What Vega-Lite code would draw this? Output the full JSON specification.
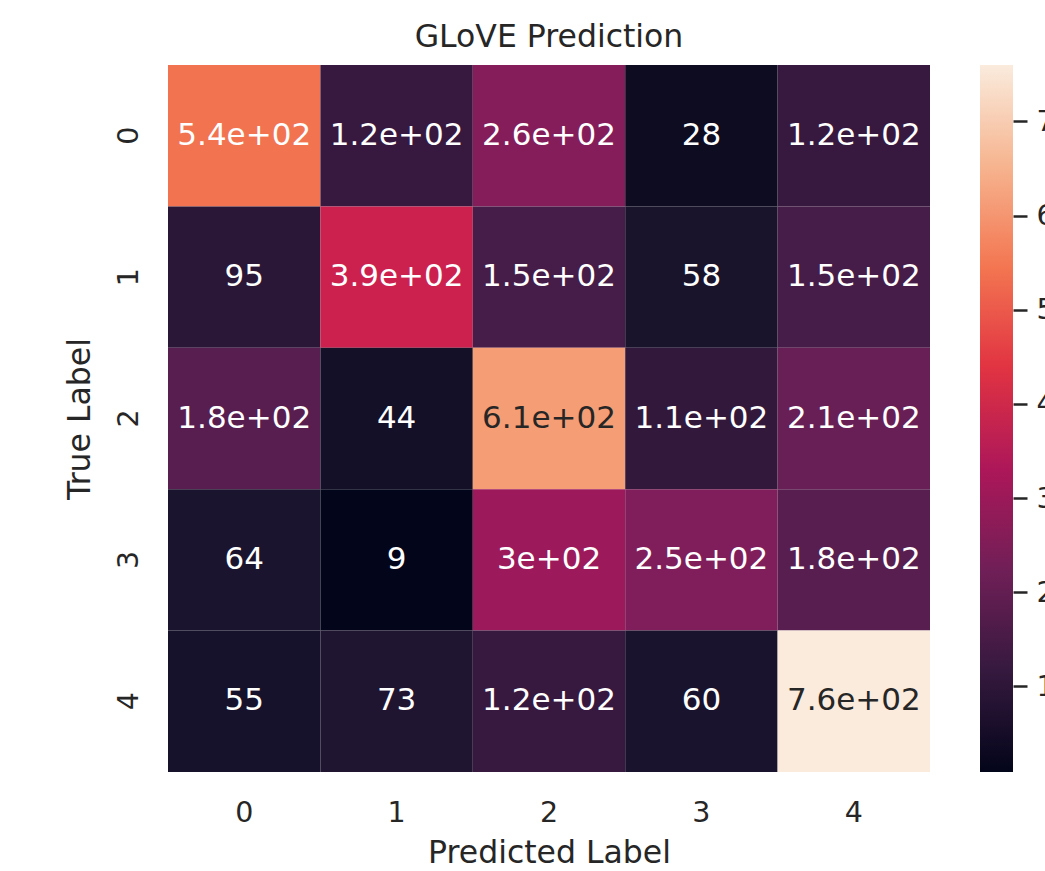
{
  "$schema": "https://vega.github.io/schema/vega-lite/v6.json",
  "autosize": "none",
  "padding": {"left": 168, "top": 65, "right": 877, "bottom": 806},
  "background": "white",
  "datasets": {
    "cm": [
      {"actual": 0, "pred": 0, "v": 540, "label": "5.4e+02"},
      {"actual": 0, "pred": 1, "v": 120, "label": "1.2e+02"},
      {"actual": 0, "pred": 2, "v": 260, "label": "2.6e+02"},
      {"actual": 0, "pred": 3, "v": 28, "label": "28"},
      {"actual": 0, "pred": 4, "v": 120, "label": "1.2e+02"},
      {"actual": 1, "pred": 0, "v": 95, "label": "95"},
      {"actual": 1, "pred": 1, "v": 390, "label": "3.9e+02"},
      {"actual": 1, "pred": 2, "v": 150, "label": "1.5e+02"},
      {"actual": 1, "pred": 3, "v": 58, "label": "58"},
      {"actual": 1, "pred": 4, "v": 150, "label": "1.5e+02"},
      {"actual": 2, "pred": 0, "v": 180, "label": "1.8e+02"},
      {"actual": 2, "pred": 1, "v": 44, "label": "44"},
      {"actual": 2, "pred": 2, "v": 610, "label": "6.1e+02"},
      {"actual": 2, "pred": 3, "v": 110, "label": "1.1e+02"},
      {"actual": 2, "pred": 4, "v": 210, "label": "2.1e+02"},
      {"actual": 3, "pred": 0, "v": 64, "label": "64"},
      {"actual": 3, "pred": 1, "v": 9, "label": "9"},
      {"actual": 3, "pred": 2, "v": 300, "label": "3e+02"},
      {"actual": 3, "pred": 3, "v": 250, "label": "2.5e+02"},
      {"actual": 3, "pred": 4, "v": 180, "label": "1.8e+02"},
      {"actual": 4, "pred": 0, "v": 55, "label": "55"},
      {"actual": 4, "pred": 1, "v": 73, "label": "73"},
      {"actual": 4, "pred": 2, "v": 120, "label": "1.2e+02"},
      {"actual": 4, "pred": 3, "v": 60, "label": "60"},
      {"actual": 4, "pred": 4, "v": 760, "label": "7.6e+02"}
    ]
  },
  "spacing": 50,
  "bounds": "flush",
  "hconcat": [
    {
      "width": 762,
      "height": 707,
      "data": {"name": "cm"},
      "title": {
        "text": "GLoVE Prediction",
        "font": "DejaVu Sans",
        "fontSize": 31.5,
        "fontWeight": "normal",
        "color": "#262626",
        "anchor": "middle",
        "baseline": "alphabetic",
        "offset": -13
      },
      "encoding": {
        "x": {
          "field": "pred",
          "type": "ordinal",
          "axis": {
            "title": "Predicted Label",
            "labelAngle": 0,
            "labelFontSize": 28.5,
            "titleFontSize": 31.5,
            "ticks": false,
            "tickSize": 0,
            "domain": false,
            "labelPadding": 26,
            "titlePadding": 11
          }
        },
        "y": {
          "field": "actual",
          "type": "ordinal",
          "axis": {
            "title": "True Label",
            "labelAngle": 270,
            "labelAlign": "center",
            "labelBaseline": "alphabetic",
            "labelFontSize": 28.5,
            "titleFontSize": 31.5,
            "titleBaseline": "alphabetic",
            "ticks": false,
            "tickSize": 0,
            "domain": false,
            "labelPadding": 31,
            "titlePadding": 25
          }
        }
      },
      "layer": [
        {
          "mark": {"type": "rect"},
          "encoding": {
            "color": {
              "field": "v",
              "type": "quantitative",
              "legend": null,
              "scale": {
                "domain": [9, 760],
                "range": ["#03051A", "#35193E", "#701F57", "#AD1759", "#E13342", "#F37651", "#F6B48F", "#FAEBDD"]
              }
            }
          }
        },
        {
          "mark": {"type": "text", "font": "DejaVu Sans", "fontSize": 31, "baseline": "middle", "align": "center"},
          "encoding": {
            "text": {"field": "label"},
            "color": {
              "condition": {"test": "datum.v > 580", "value": "#262626"},
              "value": "#ffffff"
            }
          }
        }
      ]
    },
    {
      "width": 33,
      "height": 707,
      "data": {"name": "cm"},
      "mark": {
        "type": "rect",
        "fill": {
          "gradient": "linear",
          "x1": 0, "y1": 1, "x2": 0, "y2": 0,
          "stops": [
            {"offset": 0, "color": "#03051A"},
            {"offset": 0.142857, "color": "#35193E"},
            {"offset": 0.285714, "color": "#701F57"},
            {"offset": 0.428571, "color": "#AD1759"},
            {"offset": 0.571429, "color": "#E13342"},
            {"offset": 0.714286, "color": "#F37651"},
            {"offset": 0.857143, "color": "#F6B48F"},
            {"offset": 1, "color": "#FAEBDD"}
          ]
        }
      },
      "encoding": {
        "y": {
          "aggregate": "min",
          "field": "v",
          "type": "quantitative",
          "scale": {"zero": false, "nice": false},
          "axis": {
            "orient": "right",
            "title": null,
            "values": [100, 200, 300, 400, 500, 600, 700],
            "domain": false,
            "grid": false,
            "ticks": true,
            "tickSize": 14,
            "tickWidth": 2.5,
            "tickColor": "#262626",
            "labelFontSize": 28.5,
            "labelColor": "#262626",
            "labelPadding": 9
          }
        },
        "y2": {"aggregate": "max", "field": "v"}
      }
    }
  ],
  "config": {
    "view": {"stroke": null},
    "font": "DejaVu Sans",
    "axis": {
      "labelFont": "DejaVu Sans",
      "titleFont": "DejaVu Sans",
      "labelColor": "#262626",
      "titleColor": "#262626",
      "titleFontWeight": "normal",
      "grid": false
    }
  }
}
